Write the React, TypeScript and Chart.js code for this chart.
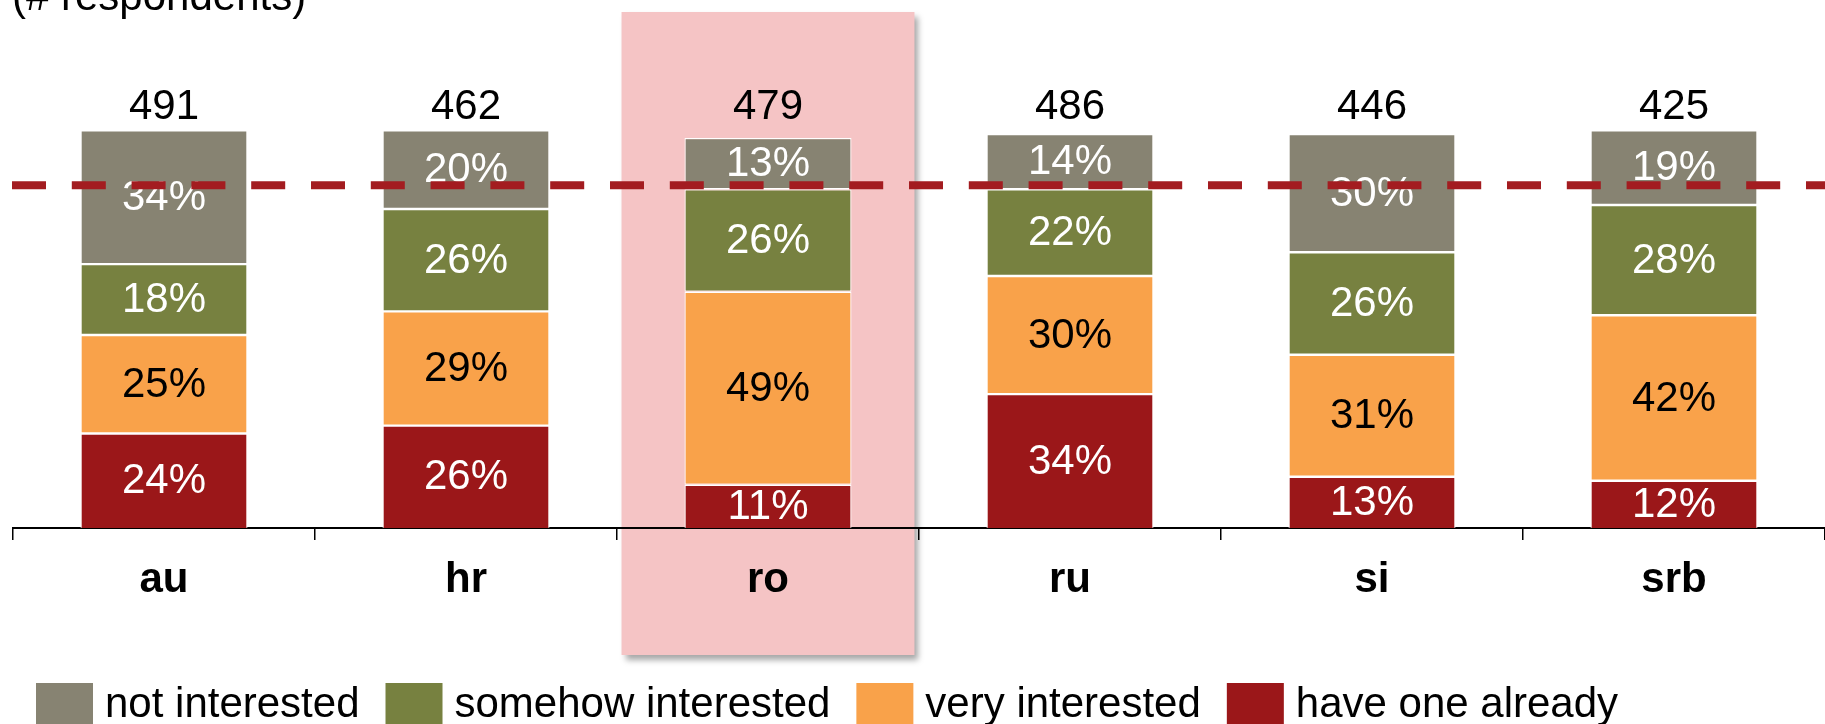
import { useEffect, useRef } from 'react';
import { Chart, registerables } from 'chart.js';

Chart.register(...registerables);

// Survey results per country (share of respondents, %)
const countries = ['au', 'hr', 'ro', 'ru', 'si', 'srb'];
const respondents = [491, 462, 479, 486, 446, 425];
const haveOneAlready = [24, 26, 11, 34, 13, 12];
const veryInterested = [25, 29, 49, 30, 31, 42];
const somehowInterested = [18, 26, 26, 22, 26, 28];
const notInterested = [34, 20, 13, 14, 30, 19];
const referenceLevel = 87;
const highlightedCountry = 'ro';
const headerText = '(# respondents)';

const FONT = '"Liberation Sans", Arial, Helvetica, sans-serif';
const COLORS = {
  notInterested: '#878372',
  somehow: '#778140',
  very: '#f9a24a',
  have: '#9b1719',
  highlight: '#f5c4c5',
  refLine: '#a31c20',
};

// legend order (top of stack first)
const legendItems = [
  { label: 'not interested', color: COLORS.notInterested },
  { label: 'somehow interested', color: COLORS.somehow },
  { label: 'very interested', color: COLORS.very },
  { label: 'have one already', color: COLORS.have },
];

const decorPlugin = {
  id: 'decor',
  beforeDraw(chart: any) {
    const { ctx, scales } = chart;
    const x = scales.x;
    const i = countries.indexOf(highlightedCountry);
    const cx = x.getPixelForValue(i);
    const step = x.getPixelForValue(1) - x.getPixelForValue(0);
    const w = step * 0.97;
    ctx.save();
    ctx.shadowColor = 'rgba(0,0,0,0.35)';
    ctx.shadowBlur = 6;
    ctx.shadowOffsetX = 4;
    ctx.shadowOffsetY = 5;
    ctx.fillStyle = COLORS.highlight;
    ctx.fillRect(cx - w / 2, 12, w, 643);
    ctx.restore();
  },
  afterDatasetsDraw(chart: any) {
    const { ctx, scales } = chart;
    const y = scales.y;
    ctx.save();
    ctx.font = `42px ${FONT}`;
    ctx.textAlign = 'center';
    ctx.textBaseline = 'middle';
    chart.data.datasets.forEach((ds: any, di: number) => {
      const meta = chart.getDatasetMeta(di);
      meta.data.forEach((bar: any, i: number) => {
        const v = ds.data[i];
        const cy = (bar.y + bar.base) / 2 + 1;
        ctx.fillStyle = ds.labelColor;
        ctx.fillText(`${v}%`, bar.x, cy);
      });
    });
    // respondent counts above each stack
    ctx.fillStyle = '#000';
    ctx.textBaseline = 'alphabetic';
    const meta0 = chart.getDatasetMeta(0);
    meta0.data.forEach((bar: any, i: number) => {
      ctx.fillText(String(respondents[i]), bar.x, y.getPixelForValue(100) - 15.5);
    });
    ctx.restore();
  },
  afterDraw(chart: any) {
    const { ctx, scales } = chart;
    const y = scales.y;
    // dashed reference line
    const ly = y.getPixelForValue(referenceLevel);
    ctx.save();
    ctx.strokeStyle = COLORS.refLine;
    ctx.lineWidth = 8;
    ctx.setLineDash([34, 25.8]);
    ctx.beginPath();
    ctx.moveTo(12, ly);
    ctx.lineTo(chart.width, ly);
    ctx.stroke();
    ctx.setLineDash([]);

    // header
    ctx.fillStyle = '#000';
    ctx.font = `42px ${FONT}`;
    ctx.textAlign = 'left';
    ctx.textBaseline = 'alphabetic';
    ctx.fillText(headerText, 12, 10);

    // legend
    let lx = 36;
    const boxTop = 683;
    legendItems.forEach((item) => {
      ctx.fillStyle = item.color;
      ctx.fillRect(lx, boxTop, 57, 45);
      lx += 57 + 12;
      ctx.fillStyle = '#000';
      ctx.fillText(item.label, lx, 717);
      lx += ctx.measureText(item.label).width + 26;
    });
    ctx.restore();
  },
};

function makeDataset(label: string, data: number[], color: string, labelColor: string, bottom: boolean) {
  return {
    label,
    data,
    backgroundColor: color,
    borderColor: '#ffffff',
    borderWidth: bottom
      ? { top: 1.2, left: 1.2, right: 1.2, bottom: 0 }
      : { top: 1.2, left: 1.2, right: 1.2, bottom: 1.2 },
    borderSkipped: false as const,
    labelColor,
    categoryPercentage: 1,
    barPercentage: 0.553,
  };
}

export default function App() {
  const canvasRef = useRef<HTMLCanvasElement | null>(null);

  useEffect(() => {
    document.body.style.margin = '0';
    const canvas = canvasRef.current;
    if (!canvas) return;
    const chart = new Chart(canvas, {
      type: 'bar',
      data: {
        labels: countries,
        datasets: [
          makeDataset('have one already', haveOneAlready, COLORS.have, '#ffffff', true),
          makeDataset('very interested', veryInterested, COLORS.very, '#000000', false),
          makeDataset('somehow interested', somehowInterested, COLORS.somehow, '#ffffff', false),
          makeDataset('not interested', notInterested, COLORS.notInterested, '#ffffff', false),
        ] as any,
      },
      options: {
        responsive: false,
        animation: false,
        devicePixelRatio: 1,
        events: [],
        layout: { padding: { top: 16, left: 13, right: 0, bottom: 0 } },
        plugins: {
          legend: { display: false },
          tooltip: { enabled: false },
          title: { display: false },
        },
        scales: {
          x: {
            stacked: true,
            offset: true,
            grid: {
              offset: true,
              drawOnChartArea: false,
              drawTicks: true,
              tickLength: 12,
              color: '#000',
              lineWidth: 1.5,
            },
            border: { display: true, color: '#000', width: 2 },
            ticks: {
              color: '#000',
              padding: 15,
              font: { family: FONT, size: 42, weight: 'bold' },
              maxRotation: 0,
            },
            afterFit(scale: any) {
              scale.height = 196;
            },
          },
          y: {
            stacked: true,
            display: false,
            min: 0,
            max: 130,
          },
        },
      },
      plugins: [decorPlugin],
    });
    return () => chart.destroy();
  }, []);

  return (
    <div style={{ width: 1825, height: 724, position: 'relative', overflow: 'hidden' }}>
      <canvas ref={canvasRef} width={1825} height={724} style={{ display: 'block' }} />
    </div>
  );
}
